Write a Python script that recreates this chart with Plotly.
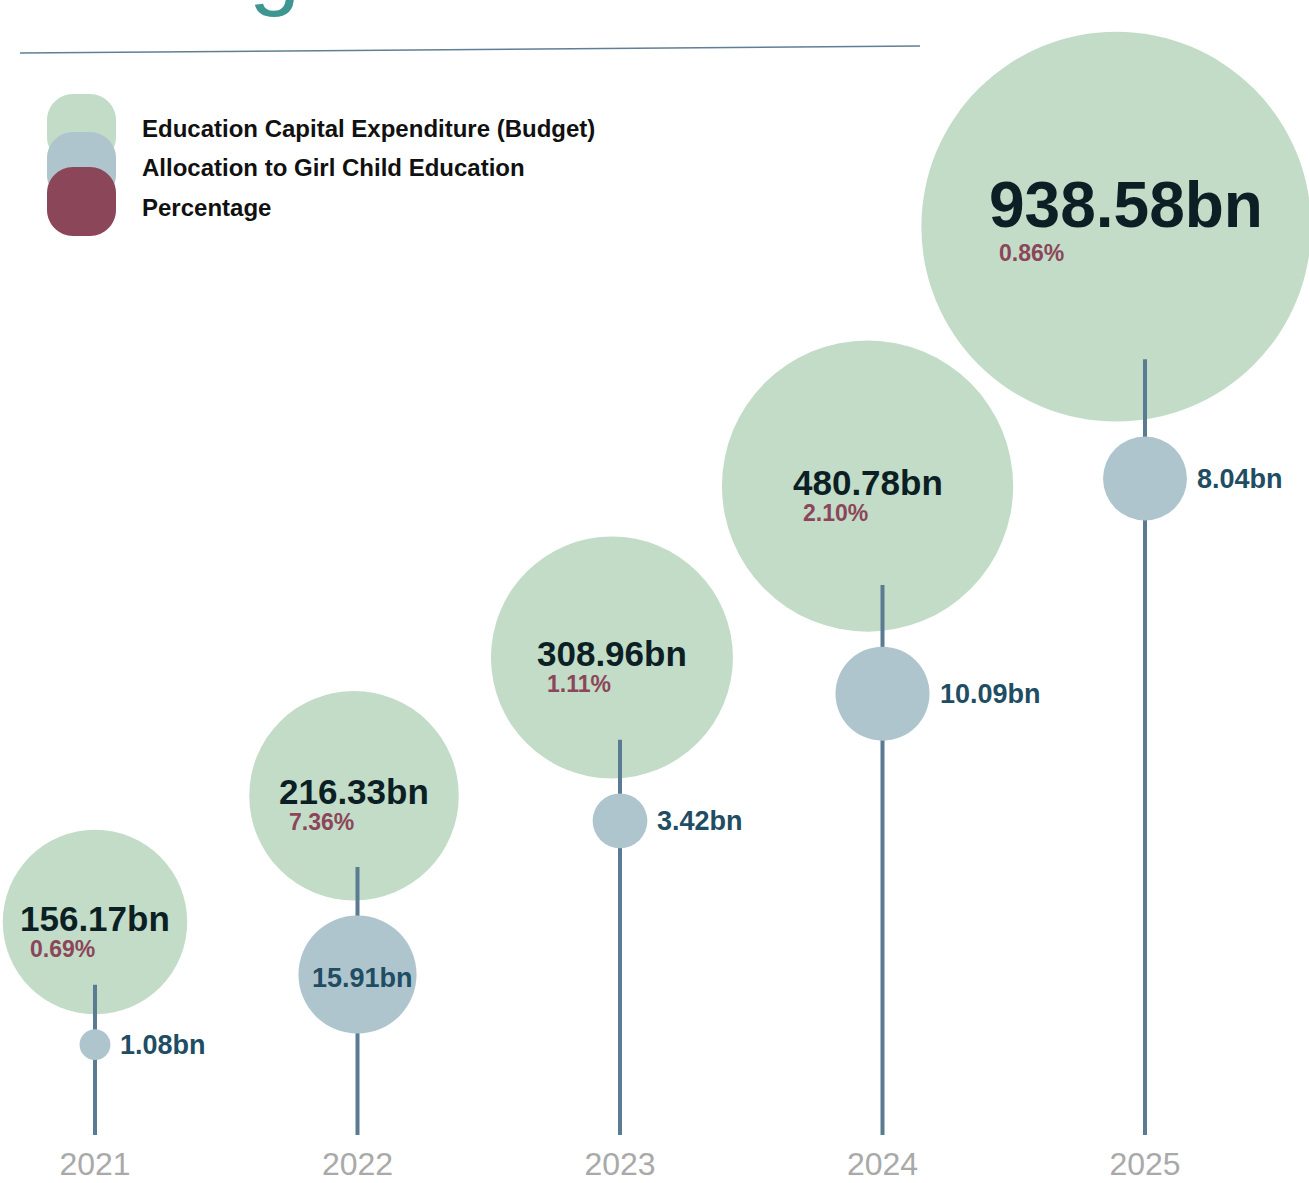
import numpy as np
import plotly.graph_objects as go

# ---------------- data ----------------
years = [2021, 2022, 2023, 2024, 2025]
year_labels = ["2021", "2022", "2023", "2024", "2025"]
budget_bn = [156.17, 216.33, 308.96, 480.78, 938.58]      # Education Capital Expenditure (Budget)
girl_bn = [1.08, 15.91, 3.42, 10.09, 8.04]                 # Allocation to Girl Child Education
percent = [0.69, 7.36, 1.11, 2.10, 0.86]                   # Percentage
legend_names = ["Education Capital Expenditure (Budget)",
                "Allocation to Girl Child Education",
                "Percentage"]

# ---------------- style / layout constants ----------------
W, H = 1309, 1183
MB = 48
PH = H - MB                      # plot-area height in px
GREEN = "#c2dcc7"
BLUE = "#afc5cd"
MAROON = "#8c4659"
STEM = "#5b7b93"
DARK = "#0b1f24"
BLUE_TXT = "#1f4d63"
FONT = "Liberation Sans, Arial, sans-serif"

# x scale: px per year
PX_PER_YEAR = 262.5
X0_PX = 95
x_range = [years[0] - X0_PX / PX_PER_YEAR, years[0] + (W - X0_PX) / PX_PER_YEAR]

# y scale: log axis, px per decade
PX_PER_DEC = 892.8
Y_LO = 1745.5 / PX_PER_DEC
Y_HI = Y_LO + PH / PX_PER_DEC


def h_of(v):          # px above baseline for a value on the log axis
    return (np.log10(v) - Y_LO) * PX_PER_DEC


def logy_of_h(h):     # log10 axis coordinate for px above baseline
    return Y_LO + h / PX_PER_DEC


# bubble radius scales (px)
r_green = [21.5 + 5.66 * np.sqrt(v) for v in budget_bn]
r_blue = [14.8 * np.sqrt(v) for v in girl_bn]
r_min = min(r_green)
green_dx = [-(r - r_min) * 0.28 / PX_PER_YEAR for r in r_green]   # slight left lean of big bubbles
green_x = [y + d for y, d in zip(years, green_dx)]

GAP = 15
h_green = [h_of(v) for v in budget_bn]
h_blue = [hg - rg - GAP - rb for hg, rg, rb in zip(h_green, r_green, r_blue)]
blue_y = [10 ** logy_of_h(h) for h in h_blue]

# stems
stem_x, stem_y = [], []
for yr, hg, rg in zip(years, h_green, r_green):
    stem_x += [yr, yr, None]
    stem_y += [10 ** Y_LO, 10 ** logy_of_h(hg - 0.68 * rg), None]

fig = go.Figure()
fig.add_trace(go.Scatter(
    x=green_x, y=budget_bn, mode="markers",
    marker=dict(size=[2 * r for r in r_green], color=GREEN, line=dict(width=0), opacity=1),
    hoverinfo="skip", showlegend=False))
fig.add_trace(go.Scatter(
    x=stem_x, y=stem_y, mode="lines",
    line=dict(color=STEM, width=4), hoverinfo="skip", showlegend=False))
fig.add_trace(go.Scatter(
    x=years, y=blue_y, mode="markers",
    marker=dict(size=[2 * r for r in r_blue], color=BLUE, line=dict(width=0), opacity=1),
    hoverinfo="skip", showlegend=False))

# text width estimate for bold Arial-like font
CW = {".": 0.278, "b": 0.611, "n": 0.611, "%": 0.889}


def text_w(s, size):
    return sum(CW.get(c, 0.556) for c in s) * size


annotations = []
big_i = int(np.argmax(budget_bn))
for i, (yr, gx, v, p, gv, by) in enumerate(zip(years, green_x, budget_bn, percent, girl_bn, blue_y)):
    big = (i == big_i)
    fs = 64 if big else 35
    lab = f"{v:.2f}bn"
    lw = text_w(lab, fs)
    ys = 22 if big else 4
    xs = 10 if big else 0
    annotations.append(dict(
        x=gx, y=np.log10(v), xref="x", yref="y", text=f"<b>{lab}</b>", showarrow=False,
        xanchor="center", yanchor="middle", yshift=ys, xshift=xs,
        font=dict(family=FONT, size=fs, color=DARK)))
    annotations.append(dict(
        x=gx, y=np.log10(v), xref="x", yref="y", text=f"<b>{p:.2f}%</b>", showarrow=False,
        xanchor="left", yanchor="middle", xshift=-lw / 2 + 8 + xs,
        yshift=ys - (0.5 * fs + (16 if big else 13)),
        font=dict(family=FONT, size=23, color=MAROON)))
    rb = r_blue[i]
    blab = f"<b>{gv:.2f}bn</b>"
    if rb > 50:
        annotations.append(dict(
            x=yr, y=np.log10(by), xref="x", yref="y", text=blab, showarrow=False,
            xanchor="right", yanchor="middle", xshift=rb - 2, yshift=-4,
            font=dict(family=FONT, size=27, color=BLUE_TXT)))
    else:
        annotations.append(dict(
            x=yr, y=np.log10(by), xref="x", yref="y", text=blab, showarrow=False,
            xanchor="left", yanchor="middle", xshift=rb + 8,
            font=dict(family=FONT, size=27, color=BLUE_TXT)))


def px2paper(px, py):
    return px / W, (PH - py) / PH


# legend (overlapping rounded squares)
def rounded_path(x0, y0, x1, y1, r):
    def P(x, y):
        a, b = px2paper(x, y)
        return f"{a:.5f},{b:.5f}"
    k = 0.55 * r
    s = (f"M{P(x0 + r, y0)} L{P(x1 - r, y0)} C{P(x1 - r + k, y0)} {P(x1, y0 + r - k)} {P(x1, y0 + r)} "
         f"L{P(x1, y1 - r)} C{P(x1, y1 - r + k)} {P(x1 - r + k, y1)} {P(x1 - r, y1)} "
         f"L{P(x0 + r, y1)} C{P(x0 + r - k, y1)} {P(x0, y1 - r + k)} {P(x0, y1 - r)} "
         f"L{P(x0, y0 + r)} C{P(x0, y0 + r - k)} {P(x0 + r - k, y0)} {P(x0 + r, y0)} Z")
    return s


shapes = []
leg_tops = [94, 132, 167]
leg_cols = [GREEN, BLUE, MAROON]
leg_text_y = [128, 167, 207]
for top, col, ty, name in zip(leg_tops, leg_cols, leg_text_y, legend_names):
    shapes.append(dict(type="path", xref="paper", yref="paper",
                       path=rounded_path(47, top, 116, top + 69, 26),
                       fillcolor=col, line=dict(width=0), layer="above"))
    tx, tyy = px2paper(140, ty)
    annotations.append(dict(x=tx, y=tyy, xref="paper", yref="paper", text=f"<b>{name}</b>",
                            showarrow=False, xanchor="left", yanchor="middle",
                            font=dict(family=FONT, size=24, color="#111111")))

# rule under the (cropped) title
lx0, ly0 = px2paper(20, 53)
lx1, ly1 = px2paper(920, 46)
shapes.append(dict(type="line", xref="paper", yref="paper", x0=lx0, y0=ly0, x1=lx1, y1=ly1,
                   line=dict(color="#607f94", width=1.5)))

# descender of the cropped title letter at the very top
gx_, gy_ = px2paper(274, 19)
annotations.append(dict(x=gx_, y=gy_, xref="paper", yref="paper", text="g", showarrow=False,
                        xanchor="center", yanchor="bottom",
                        font=dict(family=FONT, size=92, color="#3d9690")))

fig.update_layout(
    width=W, height=H,
    margin=dict(l=0, r=0, t=0, b=MB, pad=0, autoexpand=False),
    paper_bgcolor="white", plot_bgcolor="white",
    showlegend=False,
    shapes=shapes, annotations=annotations,
    xaxis=dict(range=x_range, tickmode="array", tickvals=years, ticktext=year_labels,
               showgrid=False, zeroline=False, showline=False, ticks="",
               automargin=False, ticklabelstandoff=7,
               tickfont=dict(family="Liberation Sans, Arial, sans-serif",
                             size=32, color="#a9a9a9"),
               fixedrange=True),
    yaxis=dict(type="log", range=[Y_LO, Y_HI], showgrid=False, zeroline=False, showline=False,
               showticklabels=False, ticks="", automargin=False, fixedrange=True),
)

fig.write_html("out.html", config={"displayModeBar": False},
               post_script="document.body.style.margin='0px';document.body.style.overflow='hidden';")
